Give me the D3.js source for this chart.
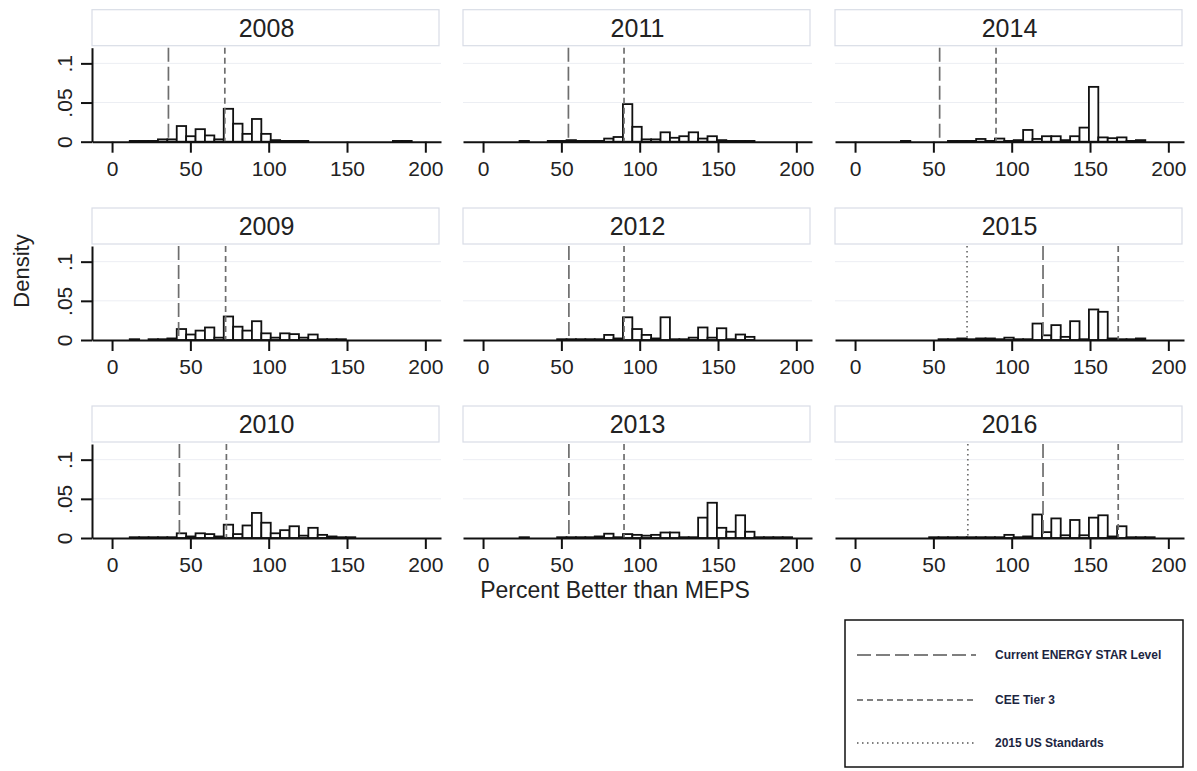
<!DOCTYPE html>
<html>
<head>
<meta charset="utf-8">
<script src="https://d3js.org/d3.v7.min.js"></script>
<style>
  body { margin: 0; background: #fff; }
  text { font-family: "Liberation Sans", Arial, sans-serif; fill: #222; }
</style>
</head>
<body>
<div id="chart"></div>
<script>
// panel years, column-major order (2008-2010 in first column)
const years = [2008, 2009, 2010, 2011, 2012, 2013, 2014, 2015, 2016];

// common histogram bins
const binStart = -0.7;
const binWidth = 6;

// density per bin, one array per year (bin k covers binStart + k*binWidth)
const dens2008 = [0, 0, 0.001, 0.001, 0.001, 0.003, 0.003, 0.020, 0.007, 0.016, 0.008, 0.003, 0.042, 0.023, 0.010, 0.029, 0.010, 0.002, 0.001, 0.001, 0.001, 0, 0, 0, 0, 0, 0, 0, 0, 0, 0.001, 0.001, 0, 0];
const dens2009 = [0, 0, 0.001, 0, 0.001, 0.001, 0.002, 0.014, 0.007, 0.012, 0.016, 0.003, 0.030, 0.017, 0.012, 0.024, 0.0085, 0.003, 0.0085, 0.0075, 0.003, 0.007, 0.001, 0.001, 0.001, 0, 0, 0, 0, 0, 0, 0, 0, 0];
const dens2010 = [0, 0, 0.001, 0.001, 0.001, 0.001, 0.001, 0.006, 0.002, 0.006, 0.005, 0.002, 0.017, 0.005, 0.016, 0.032, 0.0195, 0.006, 0.010, 0.015, 0.003, 0.013, 0.004, 0.002, 0.001, 0.001, 0, 0, 0, 0, 0, 0, 0, 0];
const dens2011 = [0, 0, 0, 0, 0.001, 0, 0, 0.001, 0.001, 0.002, 0.001, 0.001, 0.001, 0.004, 0.006, 0.048, 0.019, 0.003, 0.003, 0.012, 0.005, 0.007, 0.012, 0.004, 0.007, 0.002, 0.001, 0.001, 0.001, 0, 0, 0, 0, 0];
const dens2012 = [0, 0, 0, 0, 0, 0, 0, 0, 0.001, 0.001, 0.001, 0.001, 0.001, 0.0065, 0.002, 0.029, 0.014, 0.0065, 0.002, 0.029, 0.001, 0.001, 0.003, 0.016, 0.003, 0.015, 0.001, 0.007, 0.004, 0, 0, 0, 0, 0];
const dens2013 = [0, 0, 0, 0, 0.001, 0, 0, 0, 0.001, 0.001, 0.001, 0.001, 0.002, 0.0055, 0.001, 0.005, 0.004, 0.003, 0.004, 0.007, 0.007, 0.001, 0.001, 0.026, 0.045, 0.013, 0.008, 0.029, 0.008, 0.001, 0.001, 0.001, 0.001, 0];
const dens2014 = [0, 0, 0, 0, 0, 0.001, 0, 0, 0, 0, 0.001, 0.001, 0.001, 0.0035, 0.001, 0.004, 0.001, 0.002, 0.015, 0.0035, 0.007, 0.007, 0.002, 0.007, 0.018, 0.070, 0.0055, 0.0045, 0.0055, 0.001, 0.002, 0, 0, 0];
const dens2015 = [0, 0, 0, 0, 0, 0, 0, 0, 0, 0.001, 0.001, 0.002, 0.001, 0.002, 0.002, 0.001, 0.003, 0.001, 0.001, 0.021, 0.006, 0.019, 0.004, 0.024, 0.001, 0.039, 0.036, 0.002, 0.001, 0.001, 0.002, 0, 0, 0];
const dens2016 = [0, 0, 0, 0, 0, 0, 0, 0, 0.001, 0.001, 0.001, 0.001, 0.001, 0.001, 0.001, 0.001, 0.004, 0.001, 0.002, 0.030, 0.0075, 0.025, 0.0035, 0.023, 0.0035, 0.026, 0.029, 0.002, 0.015, 0.001, 0.001, 0.001, 0, 0];
const densities = [dens2008, dens2009, dens2010, dens2011, dens2012, dens2013, dens2014, dens2015, dens2016];

// reference levels per year
const energyStar = [36, 42.5, 43, 54.5, 54.8, 54.8, 54, 120, 120];
const ceeTier3 = [72, 72.5, 73, 90, 90, 90, 90, 168, 168];
const usStd2015 = [null, null, null, null, null, null, null, 71.5, 72];

const xTicks = [0, 50, 100, 150, 200];
const yTicks = [0, 0.05, 0.1];

const legendLabels = ["Current ENERGY STAR Level", "CEE Tier 3", "2015 US Standards"];
const legendDash = ["14,5", "6,4", "1.5,3.5"];

// layout
const W = 1197, H = 771;
const colLeft = [92, 463, 835];
const plotW = 349;
const rowBase = [141.7, 340, 538];
const plotH = 94;

const svg = d3.select("#chart").append("svg")
    .attr("width", W).attr("height", H)
    .style("background", "#fff");

years.forEach(function(yr, i) {
    let col = Math.floor(i / 3);
    let row = i % 3;
    let left = colLeft[col];
    let base = rowBase[row];

    let x = d3.scaleLinear().domain([-12.8, 210]).range([left, left + plotW]);
    let y = d3.scaleLinear().domain([0, 0.12]).range([base, base - plotH]);

    let g = svg.append("g");

    // strip
    g.append("rect")
        .attr("x", left).attr("y", base - 132)
        .attr("width", plotW - 2).attr("height", 36)
        .attr("fill", "#fff").attr("stroke", "#d9dde6").attr("stroke-width", 1.2);
    g.append("text")
        .attr("x", left + plotW / 2).attr("y", base - 105)
        .attr("text-anchor", "middle")
        .style("font-size", "25px")
        .text(yr);

    // faint grid
    g.selectAll("line.grid")
        .data([0.05, 0.1])
        .enter().append("line")
        .attr("class", "grid")
        .attr("x1", left).attr("x2", left + plotW)
        .attr("y1", d => y(d)).attr("y2", d => y(d))
        .attr("stroke", "#eceef3").attr("stroke-width", 1);

    // bars
    let bars = densities[i].map((d, k) => ({x0: binStart + k * binWidth, d: d})).filter(b => b.d > 0);
    g.selectAll("rect.bar")
        .data(bars)
        .enter().append("rect")
        .attr("class", "bar")
        .attr("x", b => x(b.x0))
        .attr("width", x(binWidth) - x(0))
        .attr("y", b => y(b.d))
        .attr("height", b => base - y(b.d))
        .attr("fill", "#fff").attr("stroke", "#111").attr("stroke-width", 1.8);

    // reference lines
    let refs = [
        {v: energyStar[i], dash: legendDash[0]},
        {v: ceeTier3[i], dash: legendDash[1]},
        {v: usStd2015[i], dash: legendDash[2]}
    ].filter(r => r.v !== null);
    g.selectAll("line.ref")
        .data(refs)
        .enter().append("line")
        .attr("class", "ref")
        .attr("x1", r => x(r.v)).attr("x2", r => x(r.v))
        .attr("y1", y(0.12)).attr("y2", base)
        .attr("stroke", "#6e6e6e").attr("stroke-width", 1.7)
        .attr("stroke-dasharray", r => r.dash);

    // x axis
    let xa = g.append("g")
        .attr("transform", `translate(0,${base})`)
        .call(d3.axisBottom(x).tickValues(xTicks).tickSize(11).tickSizeOuter(0).tickPadding(8));
    xa.select(".domain").attr("stroke", "#111").attr("stroke-width", 2);
    xa.selectAll(".tick line").attr("stroke", "#111").attr("stroke-width", 2);
    xa.selectAll(".tick text").style("font-size", "21px").attr("fill", "#222");

    // y axis on first column only
    if (col === 0) {
        let ya = g.append("g")
            .attr("transform", `translate(${left},0)`)
            .call(d3.axisLeft(y).tickValues(yTicks).tickSize(11).tickSizeOuter(0)
                .tickFormat(d => d === 0 ? "0" : d3.format(".2~f")(d).replace(/^0/, "")));
        ya.select(".domain").attr("stroke", "#111").attr("stroke-width", 2);
        ya.selectAll(".tick line").attr("stroke", "#111").attr("stroke-width", 2);
        ya.selectAll(".tick text")
            .style("font-size", "21px").attr("fill", "#222")
            .attr("x", null).attr("dy", null)
            .attr("text-anchor", "middle")
            .attr("transform", "translate(-20,0) rotate(-90)");
    }
});

// axis titles
svg.append("text")
    .attr("transform", "translate(29,271) rotate(-90)")
    .attr("text-anchor", "middle")
    .style("font-size", "22px")
    .text("Density");

svg.append("text")
    .attr("x", 615).attr("y", 598)
    .attr("text-anchor", "middle")
    .style("font-size", "23px")
    .text("Percent Better than MEPS");

// legend
const lg = svg.append("g");
lg.append("rect")
    .attr("x", 845).attr("y", 620).attr("width", 338).attr("height", 147)
    .attr("fill", "#fff").attr("stroke", "#111").attr("stroke-width", 1.5);
const legendY = [655, 700, 743];
legendLabels.forEach(function(lab, j) {
    lg.append("line")
        .attr("x1", 857).attr("x2", 976)
        .attr("y1", legendY[j]).attr("y2", legendY[j])
        .attr("stroke", "#555").attr("stroke-width", 1.5)
        .attr("stroke-dasharray", legendDash[j]);
    lg.append("text")
        .attr("x", 995).attr("y", legendY[j] + 4)
        .style("font-size", "12px")
        .style("font-weight", "bold")
        .style("fill", "#1c2541")
        .text(lab);
});
</script>
</body>
</html>
